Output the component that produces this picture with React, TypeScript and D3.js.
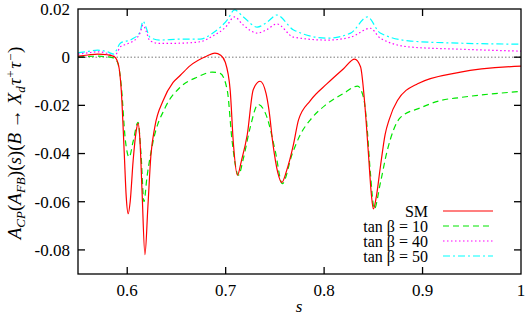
import React, { useEffect, useRef } from "react";
import * as d3 from "d3";

// s values and A_CP(A_FB), one list per curve
const smData: [number, number][] = [
  [0.55, 0.0004], [0.56, 0.0009], [0.57, 0.0013], [0.58, 0.001], [0.587, 0.0002],
  [0.591, -0.003], [0.594, -0.014], [0.597, -0.04], [0.599, -0.058], [0.601, -0.065],
  [0.603, -0.06], [0.606, -0.043], [0.609, -0.031], [0.611, -0.0275], [0.613, -0.035],
  [0.615, -0.055], [0.618, -0.082], [0.621, -0.062], [0.624, -0.041], [0.628, -0.029],
  [0.6365, -0.018], [0.6466, -0.0105], [0.654, -0.0075], [0.664, -0.0035], [0.681, 0.0005],
  [0.689, 0.0017], [0.695, 0.0008], [0.6995, -0.002], [0.7046, -0.0137], [0.7077, -0.035],
  [0.712, -0.049], [0.716, -0.043], [0.722, -0.032], [0.728, -0.0135], [0.735, -0.01],
  [0.741, -0.015], [0.744, -0.022], [0.748, -0.036], [0.753, -0.048], [0.757, -0.052],
  [0.762, -0.047], [0.769, -0.036], [0.774, -0.026], [0.786, -0.018], [0.803, -0.011],
  [0.82, -0.0047], [0.831, -0.0008], [0.837, -0.004], [0.841, -0.018], [0.845, -0.04],
  [0.848, -0.057], [0.85, -0.063], [0.853, -0.058], [0.857, -0.046], [0.862, -0.032],
  [0.866, -0.026], [0.8745, -0.018], [0.895, -0.011], [0.9386, -0.0062], [1.0, -0.0037],
];

const tb10Data: [number, number][] = [
  [0.55, 0.0], [0.57, 0.0004], [0.585, -0.0002], [0.59, -0.002], [0.594, -0.012],
  [0.598, -0.034], [0.602, -0.0415], [0.606, -0.035], [0.611, -0.027], [0.614, -0.04],
  [0.617, -0.06], [0.62, -0.05], [0.6263, -0.035], [0.6385, -0.021], [0.6538, -0.0125],
  [0.671, -0.0083], [0.6863, -0.0062], [0.6945, -0.0067], [0.7016, -0.0137], [0.7066, -0.035],
  [0.713, -0.049], [0.718, -0.042], [0.725, -0.029],
  [0.733, -0.0196], [0.742, -0.025], [0.7504, -0.039], [0.7575, -0.0525], [0.7677, -0.04],
  [0.776, -0.032], [0.786, -0.026], [0.801, -0.02], [0.82, -0.015], [0.834, -0.012],
  [0.84, -0.0167], [0.843, -0.026], [0.847, -0.048], [0.851, -0.063], [0.857, -0.0525],
  [0.864, -0.039], [0.8776, -0.025], [0.898, -0.021], [0.918, -0.018], [0.939, -0.0167],
  [1.0, -0.0142],
];

const tb40Data: [number, number][] = [
  [0.55, 0.0013], [0.56, 0.0018], [0.57, 0.0022], [0.58, 0.0015], [0.586, 0.0004],
  [0.59, 0.002], [0.593, 0.0043], [0.6, 0.0055], [0.605, 0.0064], [0.61, 0.008],
  [0.613, 0.01], [0.616, 0.0133], [0.619, 0.011], [0.623, 0.0068], [0.633, 0.0057],
  [0.654, 0.0058], [0.674, 0.0064], [0.687, 0.0088], [0.7, 0.0125], [0.709, 0.0167],
  [0.718, 0.0133], [0.732, 0.01], [0.742, 0.0115], [0.752, 0.0138], [0.769, 0.0083],
  [0.803, 0.0071], [0.827, 0.0083], [0.847, 0.012], [0.857, 0.0079], [0.888, 0.0042],
  [0.939, 0.0033], [1.0, 0.0025],
];

const tb50Data: [number, number][] = [
  [0.55, 0.0018], [0.56, 0.0024], [0.57, 0.0029], [0.58, 0.0022], [0.586, 0.0013],
  [0.593, 0.0058], [0.605, 0.0075], [0.613, 0.0104], [0.616, 0.015], [0.619, 0.0125],
  [0.623, 0.0083], [0.633, 0.0071], [0.654, 0.0075], [0.674, 0.0075], [0.687, 0.01],
  [0.7015, 0.0154], [0.709, 0.0196], [0.718, 0.0167], [0.732, 0.0125], [0.742, 0.0145],
  [0.752, 0.0175], [0.769, 0.0113], [0.803, 0.0079], [0.827, 0.01], [0.844, 0.0167],
  [0.857, 0.01], [0.888, 0.0067], [0.939, 0.0058], [1.0, 0.0054],
];

const seriesNames = ["SM", "tan β = 10", "tan β = 40", "tan β = 50"];
const xTicks = [0.6, 0.7, 0.8, 0.9, 1];
const yTicks = [0.02, 0, -0.02, -0.04, -0.06, -0.08];

const App = () => {
  const svgRef = useRef<SVGSVGElement>(null);

  useEffect(() => {
    const svg = d3.select(svgRef.current);
    svg.selectAll("*").remove();

    const width = 526;
    const height = 318;
    const margin = { top: 9, right: 5, bottom: 44, left: 78 };
    const font = "'Liberation Serif', serif";

    const x = d3.scaleLinear().domain([0.55, 1]).range([margin.left, width - margin.right]);
    const y = d3.scaleLinear().domain([-0.09, 0.02]).range([height - margin.bottom, margin.top]);

    svg.append("rect").attr("width", width).attr("height", height).attr("fill", "white");

    svg
      .append("clipPath")
      .attr("id", "plot-clip")
      .append("rect")
      .attr("x", margin.left)
      .attr("y", margin.top)
      .attr("width", x.range()[1] - margin.left)
      .attr("height", y.range()[0] - margin.top);

    // zero line
    svg
      .append("line")
      .attr("x1", x(0.55))
      .attr("x2", x(1))
      .attr("y1", y(0))
      .attr("y2", y(0))
      .attr("stroke", "#555")
      .attr("stroke-width", 0.8)
      .attr("stroke-dasharray", "1.5,2");

    const line = d3
      .line<[number, number]>()
      .x((d) => x(d[0]))
      .y((d) => y(d[1]))
      .curve(d3.curveMonotoneX);

    const series = [
      { data: smData, color: "#ff0000", dash: null },
      { data: tb10Data, color: "#00e600", dash: "6,4" },
      { data: tb40Data, color: "#ff00ff", dash: "1.5,2.5" },
      { data: tb50Data, color: "#00ffff", dash: "7,3,2,3" },
    ];

    const plot = svg.append("g").attr("clip-path", "url(#plot-clip)");
    series
      .slice()
      .reverse()
      .forEach((s) => {
        plot
          .append("path")
          .attr("d", line(s.data))
          .attr("fill", "none")
          .attr("stroke", s.color)
          .attr("stroke-width", 1.2)
          .attr("stroke-dasharray", s.dash);
      });

    // frame
    svg
      .append("rect")
      .attr("x", margin.left)
      .attr("y", margin.top)
      .attr("width", x.range()[1] - margin.left)
      .attr("height", y.range()[0] - margin.top)
      .attr("fill", "none")
      .attr("stroke", "black")
      .attr("stroke-width", 1.3);

    const tickLen = 7;
    const ticks = svg.append("g").attr("stroke", "black").attr("stroke-width", 1.3);
    xTicks.slice(0, -1).forEach((t) => {
      ticks.append("line").attr("x1", x(t)).attr("x2", x(t)).attr("y1", y(-0.09)).attr("y2", y(-0.09) - tickLen);
      ticks.append("line").attr("x1", x(t)).attr("x2", x(t)).attr("y1", y(0.02)).attr("y2", y(0.02) + tickLen);
    });
    yTicks.slice(1).forEach((t) => {
      ticks.append("line").attr("x1", x(0.55)).attr("x2", x(0.55) + tickLen).attr("y1", y(t)).attr("y2", y(t));
      ticks.append("line").attr("x1", x(1)).attr("x2", x(1) - tickLen).attr("y1", y(t)).attr("y2", y(t));
    });

    svg
      .selectAll(".xtl")
      .data(xTicks)
      .enter()
      .append("text")
      .attr("x", (d) => x(d))
      .attr("y", 296)
      .attr("text-anchor", "middle")
      .attr("font-family", font)
      .attr("font-size", 17)
      .text((d) => String(d));

    svg
      .selectAll(".ytl")
      .data(yTicks)
      .enter()
      .append("text")
      .attr("x", 70)
      .attr("y", (d) => y(d))
      .attr("dy", "0.35em")
      .attr("text-anchor", "end")
      .attr("font-family", font)
      .attr("font-size", 17)
      .text((d) => (d === 0 ? "0" : d.toFixed(2)));

    // x label
    svg
      .append("text")
      .attr("x", 299)
      .attr("y", 312)
      .attr("text-anchor", "middle")
      .attr("font-family", font)
      .attr("font-style", "italic")
      .attr("font-size", 17)
      .text("s");

    // y label
    const yl = svg
      .append("text")
      .attr("transform", "translate(21,143) rotate(-90)")
      .attr("text-anchor", "middle")
      .attr("font-family", font)
      .attr("font-size", 19);
    const parts: [string, string][] = [
      ["A", "i"], ["CP", "sub"], ["(", "n"], ["A", "i"], ["FB", "sub"], [")(", "n"],
      ["s", "i"], [")(", "n"], ["B", "i"], [" → ", "n"], ["X", "i"], ["d", "sub"],
      ["τ", "i"], ["+", "sup"], ["τ", "i"], ["−", "sup"], [")", "n"],
    ];
    let prev = "n";
    parts.forEach(([t, k]) => {
      const ts = yl.append("tspan").text(t);
      const shift = (k === "sub" ? 4 : k === "sup" ? -6 : 0) - (prev === "sub" ? 4 : prev === "sup" ? -6 : 0);
      if (shift !== 0) ts.attr("dy", shift);
      if (k !== "n") ts.attr("font-style", "italic");
      if (k === "sub" || k === "sup") ts.attr("font-size", 13);
      if (k === "i" && prev !== "n") ts.attr("dx", 1);
      prev = k;
    });

    // legend
    const legend = svg.append("g");
    series.forEach((s, i) => {
      const ly = 211 + i * 15;
      legend
        .append("text")
        .attr("x", 428)
        .attr("y", ly)
        .attr("dy", "0.35em")
        .attr("text-anchor", "end")
        .attr("font-family", font)
        .attr("font-size", 16)
        .text(seriesNames[i]);
      legend
        .append("line")
        .attr("x1", 443)
        .attr("x2", 493)
        .attr("y1", ly)
        .attr("y2", ly)
        .attr("stroke", s.color)
        .attr("stroke-width", 1.2)
        .attr("stroke-dasharray", s.dash);
    });
  }, []);

  return (
    <svg
      ref={svgRef}
      width={526}
      height={318}
      style={{ position: "absolute", left: 0, top: 0 }}
    ></svg>
  );
};

export default App;
